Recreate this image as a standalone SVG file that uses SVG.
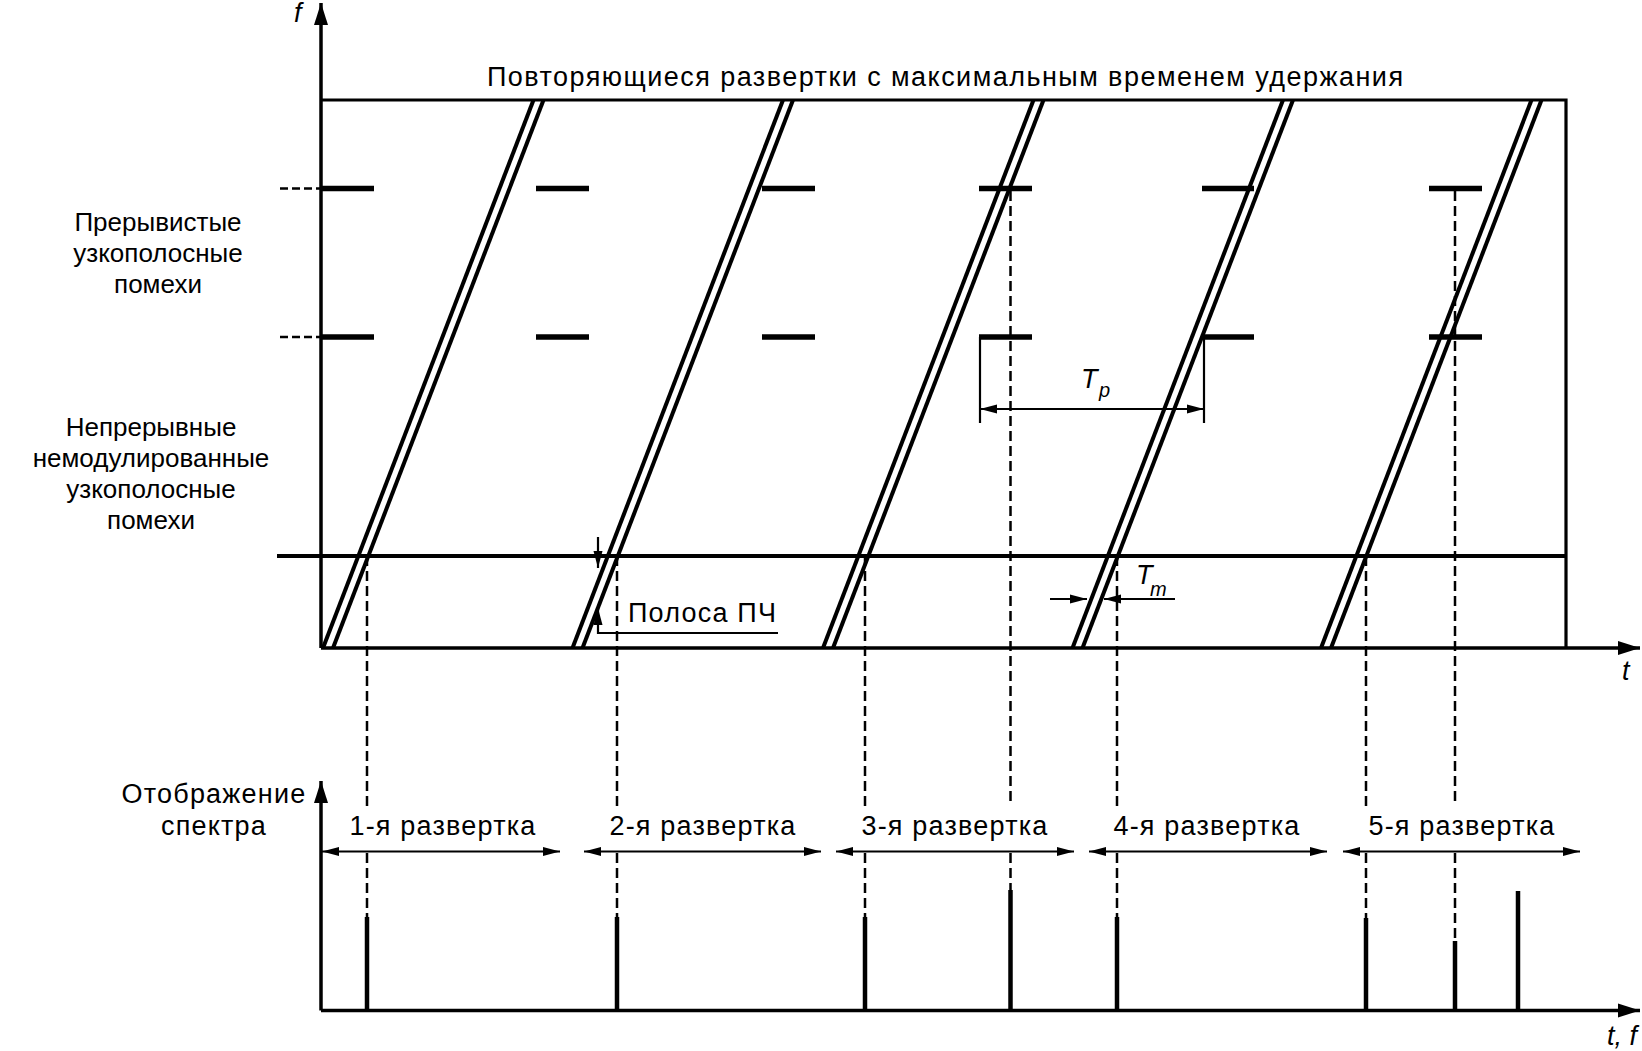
<svg xmlns="http://www.w3.org/2000/svg" width="1642" height="1051" viewBox="0 0 1642 1051">
<style>
.ax{stroke:#000;stroke-width:3.5;fill:none}
.bx{stroke:#000;stroke-width:3.2;fill:none}
.sw{stroke:#000;stroke-width:4;fill:none}
.dsh{stroke:#000;stroke-width:2.5;stroke-dasharray:10 5;fill:none}
.stub{stroke:#000;stroke-width:2.5;stroke-dasharray:8 4;fill:none}
.intf{stroke:#000;stroke-width:5.5;fill:none}
.spk{stroke:#000;stroke-width:4.5;fill:none}
.dim{stroke:#000;stroke-width:2.2;fill:none}
text{font-family:"Liberation Sans",Arial,sans-serif;font-size:27px;letter-spacing:1.2px;fill:#000}
.it{font-style:italic;letter-spacing:0}
.c{text-anchor:middle}
.lb{font-size:26px;letter-spacing:0}
</style>
<defs>
<marker id="ah" markerUnits="userSpaceOnUse" markerWidth="20" markerHeight="12" viewBox="-18 -6 20 12" refX="0" refY="0" orient="auto-start-reverse">
<path d="M0,0 L-17,-4.5 L-17,4.5 Z" fill="#000"/>
</marker>
<marker id="axh" markerUnits="userSpaceOnUse" markerWidth="26" markerHeight="18" viewBox="-24 -9 26 18" refX="0" refY="0" orient="auto">
<path d="M0,0 L-22,-7 L-22,7 Z" fill="#000"/>
</marker>
</defs>

<g id="top-axes">
<line class="ax" x1="321" y1="648" x2="321" y2="3" marker-end="url(#axh)"/>
<line class="ax" x1="321" y1="648" x2="1640" y2="648" marker-end="url(#axh)"/>
<polyline class="bx" points="321,100 1566,100 1566,648"/>
<text class="it" x="294" y="22">f</text>
<text class="it" x="1622" y="680">t</text>
</g>

<g id="title">
<text x="487" y="86" style="letter-spacing:0" textLength="916" lengthAdjust="spacing">Повторяющиеся развертки с максимальным временем удержания</text>
</g>

<g id="continuous-interference">
<line x1="277" y1="556" x2="1566" y2="556" stroke="#000" stroke-width="4"/>
</g>

<g id="intermittent-interference">
<line class="stub" x1="280" y1="188.5" x2="320" y2="188.5"/>
<line class="stub" x1="280" y1="337" x2="320" y2="337"/>
<line class="intf" x1="321" y1="188.5" x2="374" y2="188.5"/>
<line class="intf" x1="536" y1="188.5" x2="589" y2="188.5"/>
<line class="intf" x1="762" y1="188.5" x2="815" y2="188.5"/>
<line class="intf" x1="979" y1="188.5" x2="1032" y2="188.5"/>
<line class="intf" x1="1202" y1="188.5" x2="1254" y2="188.5"/>
<line class="intf" x1="1429" y1="188.5" x2="1482" y2="188.5"/>
<line class="intf" x1="321" y1="337" x2="374" y2="337"/>
<line class="intf" x1="536" y1="337" x2="589" y2="337"/>
<line class="intf" x1="762" y1="337" x2="815" y2="337"/>
<line class="intf" x1="979" y1="337" x2="1032" y2="337"/>
<line class="intf" x1="1202" y1="337" x2="1254" y2="337"/>
<line class="intf" x1="1429" y1="337" x2="1482" y2="337"/>
</g>

<g id="sweeps">
<line class="sw" x1="323" y1="648" x2="533.5" y2="100"/>
<line class="sw" x1="333" y1="648" x2="543.5" y2="100"/>
<line class="sw" x1="572.5" y1="648" x2="783" y2="100"/>
<line class="sw" x1="582.5" y1="648" x2="793" y2="100"/>
<line class="sw" x1="823" y1="648" x2="1033.5" y2="100"/>
<line class="sw" x1="833" y1="648" x2="1043.5" y2="100"/>
<line class="sw" x1="1072.5" y1="648" x2="1283" y2="100"/>
<line class="sw" x1="1082.5" y1="648" x2="1293" y2="100"/>
<line class="sw" x1="1321" y1="648" x2="1531.5" y2="100"/>
<line class="sw" x1="1331" y1="648" x2="1541.5" y2="100"/>
</g>

<g id="projections">
<line class="dsh" x1="367" y1="556" x2="367" y2="806"/>
<line class="dsh" x1="367" y1="853" x2="367" y2="917"/>
<line class="dsh" x1="617" y1="556" x2="617" y2="806"/>
<line class="dsh" x1="617" y1="853" x2="617" y2="917"/>
<line class="dsh" x1="865" y1="556" x2="865" y2="806"/>
<line class="dsh" x1="865" y1="853" x2="865" y2="917"/>
<line class="dsh" x1="1010.5" y1="191" x2="1010.5" y2="806"/>
<line class="dsh" x1="1010.5" y1="853" x2="1010.5" y2="890"/>
<line class="dsh" x1="1117" y1="556" x2="1117" y2="806"/>
<line class="dsh" x1="1117" y1="853" x2="1117" y2="917"/>
<line class="dsh" x1="1366" y1="556" x2="1366" y2="806"/>
<line class="dsh" x1="1366" y1="853" x2="1366" y2="918"/>
<line class="dsh" x1="1455" y1="191" x2="1455" y2="806"/>
<line class="dsh" x1="1455" y1="853" x2="1455" y2="941"/>
</g>

<g id="tp-dimension">
<line class="dim" x1="980" y1="337" x2="980" y2="423"/>
<line class="dim" x1="1204" y1="337" x2="1204" y2="423"/>
<line class="dim" x1="980" y1="409" x2="1204" y2="409" marker-start="url(#ah)" marker-end="url(#ah)"/>
<text class="it" x="1081" y="388">T</text>
<text class="it" x="1099" y="397" style="font-size:20px">p</text>
</g>

<g id="tm-dimension">
<line class="dim" x1="1050" y1="599" x2="1087" y2="599" marker-end="url(#ah)"/>
<line class="dim" x1="1175" y1="599" x2="1104" y2="599" marker-end="url(#ah)"/>
<text class="it" x="1136" y="584">T</text>
<text class="it" x="1150" y="596" style="font-size:20px">m</text>
</g>

<g id="if-band">
<line class="dim" x1="598" y1="537" x2="598" y2="568" marker-end="url(#ah)"/>
<polyline class="dim" points="778,633 598,633 598,608" marker-end="url(#ah)"/>
<text x="628" y="622">Полоса ПЧ</text>
</g>

<g id="left-labels">
<text class="c lb" x="158" y="231">Прерывистые</text>
<text class="c lb" x="158" y="262">узкополосные</text>
<text class="c lb" x="158" y="293">помехи</text>
<text class="c lb" x="151" y="436">Непрерывные</text>
<text class="c lb" x="151" y="467">немодулированные</text>
<text class="c lb" x="151" y="498">узкополосные</text>
<text class="c lb" x="151" y="529">помехи</text>
<text class="c" x="214" y="803">Отображение</text>
<text class="c" x="214" y="835">спектра</text>
</g>

<g id="spectrum-axes">
<line class="ax" x1="321" y1="1010.5" x2="321" y2="781" marker-end="url(#axh)"/>
<line class="ax" x1="321" y1="1010.5" x2="1640" y2="1010.5" marker-end="url(#axh)"/>
<text class="it" x="1637" y="1045" style="text-anchor:end">t, f</text>
</g>

<g id="sweep-labels">
<line class="dim" x1="322" y1="851.5" x2="560" y2="851.5" marker-start="url(#ah)" marker-end="url(#ah)"/>
<line class="dim" x1="584" y1="851.5" x2="821" y2="851.5" marker-start="url(#ah)" marker-end="url(#ah)"/>
<line class="dim" x1="836" y1="851.5" x2="1074" y2="851.5" marker-start="url(#ah)" marker-end="url(#ah)"/>
<line class="dim" x1="1089" y1="851.5" x2="1327" y2="851.5" marker-start="url(#ah)" marker-end="url(#ah)"/>
<line class="dim" x1="1343" y1="851.5" x2="1580" y2="851.5" marker-start="url(#ah)" marker-end="url(#ah)"/>
<text class="c" x="443" y="835">1-я развертка</text>
<text class="c" x="703" y="835">2-я развертка</text>
<text class="c" x="955" y="835">3-я развертка</text>
<text class="c" x="1207" y="835">4-я развертка</text>
<text class="c" x="1462" y="835">5-я развертка</text>
</g>

<g id="spectrum-lines">
<line class="spk" x1="367" y1="1010" x2="367" y2="917"/>
<line class="spk" x1="617" y1="1010" x2="617" y2="917"/>
<line class="spk" x1="865" y1="1010" x2="865" y2="917"/>
<line class="spk" x1="1010.5" y1="1010" x2="1010.5" y2="890"/>
<line class="spk" x1="1117" y1="1010" x2="1117" y2="917"/>
<line class="spk" x1="1366" y1="1010" x2="1366" y2="918"/>
<line class="spk" x1="1455" y1="1010" x2="1455" y2="941"/>
<line class="spk" x1="1518" y1="1010" x2="1518" y2="891"/>
</g>
</svg>
